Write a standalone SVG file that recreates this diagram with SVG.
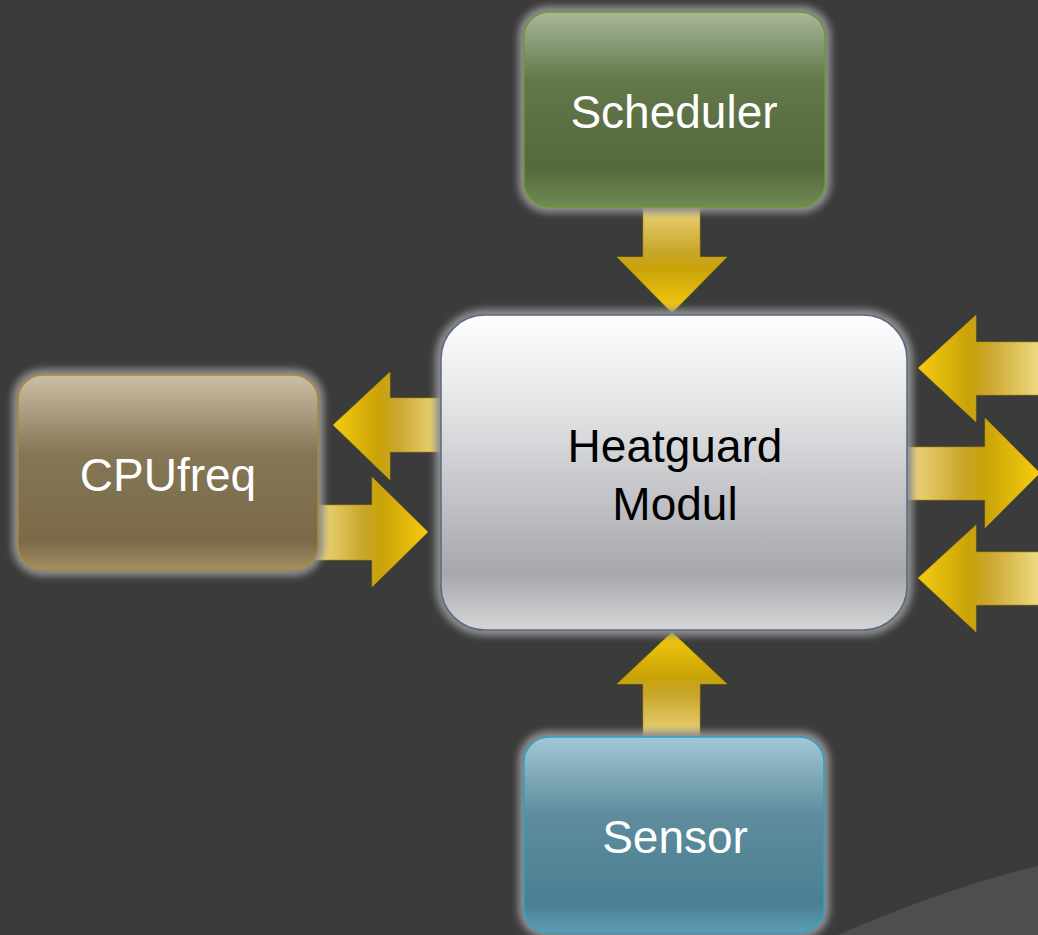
<svg xmlns="http://www.w3.org/2000/svg" width="1038" height="935" viewBox="0 0 1038 935">
  <style>
    .label { font-family: "Liberation Sans", Arial, sans-serif; font-size: 46px; text-anchor: middle; }
    .light { fill: #ffffff; }
    .dark { fill: #000000; }
    .halo { fill: #8e8e8e; filter: url(#blur); }
    .arrow { stroke: #b08c00; stroke-width: 1; stroke-opacity: 0.6; stroke-linejoin: miter; }
  </style>
  <defs>
    <filter id="blur" x="-10%" y="-10%" width="120%" height="120%">
      <feGaussianBlur stdDeviation="3.5"/>
    </filter>
    <linearGradient id="gSched" x1="0" y1="0" x2="0" y2="1">
      <stop offset="0" stop-color="#a9b89a"/>
      <stop offset="0.35" stop-color="#62774a"/>
      <stop offset="0.8" stop-color="#55683e"/>
      <stop offset="1" stop-color="#6f8b52"/>
    </linearGradient>
    <linearGradient id="gCpu" x1="0" y1="0" x2="0" y2="1">
      <stop offset="0" stop-color="#cbbfa6"/>
      <stop offset="0.4" stop-color="#857656"/>
      <stop offset="0.85" stop-color="#7a6a48"/>
      <stop offset="1" stop-color="#a48f62"/>
    </linearGradient>
    <linearGradient id="gSensor" x1="0" y1="0" x2="0" y2="1">
      <stop offset="0" stop-color="#a2c8d6"/>
      <stop offset="0.4" stop-color="#5e8c9c"/>
      <stop offset="0.85" stop-color="#4a7f92"/>
      <stop offset="1" stop-color="#5c9eb6"/>
    </linearGradient>
    <linearGradient id="gCore" x1="0" y1="0" x2="0" y2="1">
      <stop offset="0" stop-color="#ffffff"/>
      <stop offset="0.3" stop-color="#e2e3e5"/>
      <stop offset="0.82" stop-color="#a6a8ac"/>
      <stop offset="1" stop-color="#d6d6d8"/>
    </linearGradient>
    <!-- gold gradients: light at the tail, bright at the tip -->
    <linearGradient id="aDown" x1="0" y1="0" x2="0" y2="1">
      <stop offset="0" stop-color="#f2de86"/>
      <stop offset="0.45" stop-color="#c9a62c"/>
      <stop offset="0.6" stop-color="#c9a308"/>
      <stop offset="1" stop-color="#f6cc10"/>
    </linearGradient>
    <linearGradient id="aUp" x1="0" y1="1" x2="0" y2="0">
      <stop offset="0" stop-color="#f2de86"/>
      <stop offset="0.45" stop-color="#c9a62c"/>
      <stop offset="0.6" stop-color="#c9a308"/>
      <stop offset="1" stop-color="#f6cc10"/>
    </linearGradient>
    <linearGradient id="aLeft" x1="1" y1="0" x2="0" y2="0">
      <stop offset="0" stop-color="#f4e08c"/>
      <stop offset="0.45" stop-color="#c9a62c"/>
      <stop offset="0.6" stop-color="#c9a308"/>
      <stop offset="1" stop-color="#f6cc10"/>
    </linearGradient>
    <linearGradient id="aRight" x1="0" y1="0" x2="1" y2="0">
      <stop offset="0" stop-color="#f4e08c"/>
      <stop offset="0.45" stop-color="#c9a62c"/>
      <stop offset="0.6" stop-color="#c9a308"/>
      <stop offset="1" stop-color="#f6cc10"/>
    </linearGradient>
  </defs>

  <!-- backdrop -->
  <rect width="1038" height="935" fill="#3b3b3b"/>
  <path d="M 838 935 Q 945 888 1038 866 L 1038 935 Z" fill="#4e4e4e"/>

  <!-- connectors -->
  <g id="connectors">
    <polygon class="arrow" fill="url(#aDown)" points="643,200 700,200 700,257 727,257 672,313 617,257 643,257"/>
    <polygon class="arrow" fill="url(#aUp)" points="672,632 727,684 700,684 700,745 643,745 643,684 617,684"/>
    <polygon class="arrow" fill="url(#aLeft)" points="333,425 390,372 390,398 448,398 448,452 390,452 390,480"/>
    <polygon class="arrow" fill="url(#aRight)" points="310,505 372,505 372,477 428,532 372,587 372,560 310,560"/>
    <polygon class="arrow" fill="url(#aLeft)" points="918,368 976,315 976,342 1045,342 1045,395 976,395 976,422"/>
    <polygon class="arrow" fill="url(#aRight)" points="900,447 985,447 985,418 1040,473 985,528 985,500 900,500"/>
    <polygon class="arrow" fill="url(#aLeft)" points="918,578 976,525 976,552 1045,552 1045,605 976,605 976,632"/>
  </g>

  <g id="scheduler">
    <rect class="halo" x="518" y="6" width="313" height="207" rx="30"/>
    <rect x="524" y="12" width="301" height="195" rx="25" fill="url(#gSched)" stroke="#6a9a32" stroke-width="1.5"/>
    <text class="label light" x="674" y="128">Scheduler</text>
  </g>

  <g id="cpufreq">
    <rect class="halo" x="12" y="369" width="312" height="207" rx="30"/>
    <rect x="18" y="375" width="300" height="195" rx="25" fill="url(#gCpu)" stroke="#a88a3a" stroke-width="1.5"/>
    <text class="label light" x="168" y="491">CPUfreq</text>
  </g>

  <g id="heatguard">
    <rect class="halo" x="435" y="309" width="478" height="327" rx="50"/>
    <rect x="441" y="315" width="466" height="315" rx="44" fill="url(#gCore)" stroke="#5a6a82" stroke-width="1.5"/>
    <text class="label dark" x="675" y="462">Heatguard</text>
    <text class="label dark" x="675" y="520">Modul</text>
  </g>

  <g id="sensor">
    <rect class="halo" x="518" y="731" width="312" height="208" rx="30"/>
    <rect x="524" y="737" width="300" height="196" rx="25" fill="url(#gSensor)" stroke="#2aa2cc" stroke-width="1.5"/>
    <text class="label light" x="675" y="853">Sensor</text>
  </g>
</svg>
